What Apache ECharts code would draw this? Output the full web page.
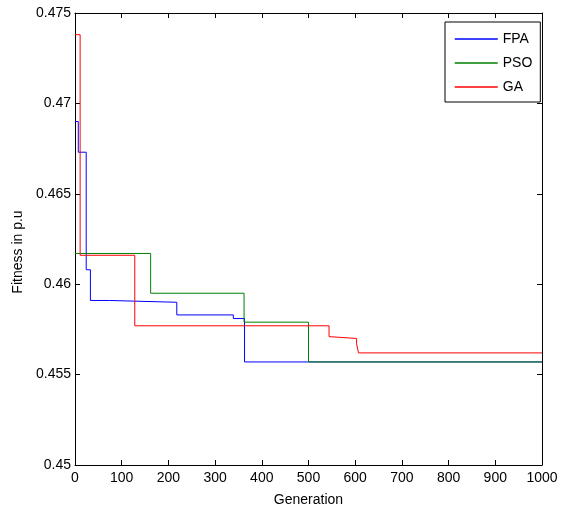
<!DOCTYPE html>
<html>
<head>
<meta charset="utf-8">
<script src="https://cdn.jsdelivr.net/npm/echarts@6/dist/echarts.min.js"></script>
<style>
  html, body { margin: 0; padding: 0; background: #fff; }
  #chart { width: 568px; height: 512px; }
</style>
</head>
<body>
<div id="chart"></div>
<script>
// generation where each step starts, and the fitness from there on
var fpaGen = [0, 7, 24, 33, 74, 218, 339, 363, 1000];
var fpaVal = [0.4690, 0.4673, 0.4608, 0.4591, 0.4590, 0.4583, 0.4581, 0.4557, 0.4557];

var psoGen = [0, 162, 362, 500, 1000];
var psoVal = [0.4617, 0.4595, 0.4579, 0.4557, 0.4557];

var gaGen = [0, 11, 128, 544, 548, 603, 607, 1000];
var gaVal = [0.4738, 0.4616, 0.4577, 0.4571, 0.4570, 0.4567, 0.4562, 0.4562];

var xTicks = [0, 100, 200, 300, 400, 500, 600, 700, 800, 900, 1000];
var yTicks = [0.45, 0.455, 0.46, 0.465, 0.47, 0.475];

var font = "'Liberation Sans', Arial, sans-serif";

function pairs(gen, val) {
  var arr = [];
  for (var i = 0; i < gen.length; i++) {
    arr.push([gen[i], val[i]]);
  }
  return arr;
}

function lineSeries(name, color, gen, val) {
  return {
    name: name,
    type: "line",
    step: "end",
    symbol: "none",
    showSymbol: false,
    animation: false,
    data: pairs(gen, val),
    itemStyle: { color: color },
    lineStyle: { color: color, width: 1 }
  };
}

var axisLine = { show: true, onZero: false, lineStyle: { color: "#000", width: 1 } };
var axisTick = { show: true, inside: true, length: 5, lineStyle: { color: "#000" } };

var myChart = echarts.init(document.getElementById("chart"));
var option = {
  backgroundColor: "#fff",
  animation: false,
  grid: { left: 75, right: 26, top: 13, bottom: 46 },
  legend: {
    orient: "vertical",
    left: 445,
    top: 22,
    padding: [10, 8, 8, 9],
    itemWidth: 43,
    itemHeight: 14,
    itemGap: 10,
    backgroundColor: "#fff",
    borderColor: "#000",
    borderWidth: 1,
    borderRadius: 0,
    itemStyle: { opacity: 0, borderWidth: 0 },
    lineStyle: { width: 1.5 },
    data: ["FPA", "PSO", "GA"],
    textStyle: { color: "#000", fontSize: 14, fontFamily: font }
  },
  xAxis: [
    {
      type: "value",
      min: xTicks[0],
      max: xTicks[xTicks.length - 1],
      interval: 100,
      name: "Generation",
      nameLocation: "middle",
      nameGap: 28,
      nameTextStyle: { color: "#000", fontSize: 14, fontFamily: font },
      axisLine: axisLine,
      axisTick: axisTick,
      axisLabel: {
        color: "#000", fontSize: 14, fontFamily: font, margin: 6,
        formatter: function (v) { return String(v); }
      },
      splitLine: { show: false }
    },
    {
      type: "value",
      position: "top",
      min: xTicks[0],
      max: xTicks[xTicks.length - 1],
      interval: 100,
      axisLine: axisLine,
      axisTick: axisTick,
      axisLabel: { show: false },
      splitLine: { show: false }
    }
  ],
  yAxis: [
    {
      type: "value",
      min: yTicks[0],
      max: yTicks[yTicks.length - 1],
      interval: 0.005,
      name: "Fitness in p.u",
      nameLocation: "middle",
      nameGap: 46,
      nameTextStyle: { color: "#000", fontSize: 14, fontFamily: font, padding: [0, 26, 0, 0] },
      axisLine: axisLine,
      axisTick: axisTick,
      axisLabel: {
        color: "#000", fontSize: 14, fontFamily: font, margin: 4,
        formatter: function (v) { return String(+v.toFixed(3)); }
      },
      splitLine: { show: false }
    },
    {
      type: "value",
      position: "right",
      min: yTicks[0],
      max: yTicks[yTicks.length - 1],
      interval: 0.005,
      axisLine: axisLine,
      axisTick: axisTick,
      axisLabel: { show: false },
      splitLine: { show: false }
    }
  ],
  series: [
    lineSeries("FPA", "#0000ff", fpaGen, fpaVal),
    lineSeries("PSO", "#008000", psoGen, psoVal),
    lineSeries("GA", "#ff0000", gaGen, gaVal)
  ]
};
myChart.setOption(option);
</script>
</body>
</html>
